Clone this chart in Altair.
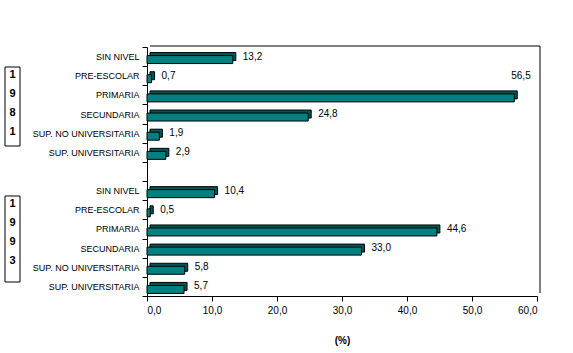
import altair as alt
import pandas as pd

years = ["1981", "1993"]
levels = ["SIN NIVEL", "PRE-ESCOLAR", "PRIMARIA", "SECUNDARIA",
          "SUP. NO UNIVERSITARIA", "SUP. UNIVERSITARIA"]
v1981 = [13.2, 0.7, 56.5, 24.8, 1.9, 2.9]
v1993 = [10.4, 0.5, 44.6, 33.0, 5.8, 5.7]
x_ticks = [0, 10, 20, 30, 40, 50, 60]

order = [f"1981|{l}" for l in levels] + ["gap|"] + [f"1993|{l}" for l in levels]
rows = []
for l, v in zip(levels, v1981):
    rows.append({"key": f"1981|{l}", "v": v})
for l, v in zip(levels, v1993):
    rows.append({"key": f"1993|{l}", "v": v})
df = pd.DataFrame(rows)

FONT = "Liberation Sans"
TEAL = "#008080"
DARK = "#005656"

yenc = alt.Y("key:N", sort=order, title=None,
             scale=alt.Scale(domain=order, paddingInner=0, paddingOuter=0),
             axis=alt.Axis(labelExpr="split(datum.label,'|')[1]", tickBand="extent",
                           tickSize=5, labelPadding=3, labelFontSize=9, labelFont=FONT,
                           labelColor="black", domainColor="black", tickColor="black",
                           labelLimit=200))
xenc = alt.X("v:Q", title="(%)",
             scale=alt.Scale(domain=[0, 60], nice=False),
             axis=alt.Axis(values=x_ticks,
                           labelExpr="replace(format(datum.value,'.1f'),'.',',')",
                           tickSize=5, labelPadding=4, labelFontSize=10, labelFont=FONT,
                           labelColor="black", domainColor="black", tickColor="black",
                           titleFont=FONT, titleFontSize=10, titleFontWeight="bold",
                           titlePadding=20, grid=False))

base = alt.Chart(df).encode(y=yenc)

back = base.mark_bar(size=8, color=DARK, stroke="black", strokeWidth=1,
                     xOffset=3, yOffset=0).encode(x=xenc)
front = base.mark_bar(size=8, color=TEAL, stroke="black", strokeWidth=1,
                      yOffset=3).encode(x=xenc)

lab = base.transform_calculate(
    t="replace(format(datum.v,'.1f'),'.',',')"
)
labels = lab.transform_filter("datum.v < 50").mark_text(
    align="left", baseline="middle", dx=10, dy=0, fontSize=10, font=FONT, color="black"
).encode(x="v:Q", text="t:N")
labels_hi = lab.transform_filter("datum.v >= 50").mark_text(
    align="left", baseline="middle", dx=-3, dy=-19, fontSize=10, font=FONT, color="black"
).encode(x="v:Q", text="t:N")

# 3D back wall lines
top_line = alt.Chart(pd.DataFrame({"a": [0]})).mark_rule(color="black", strokeWidth=1).encode(
    x=alt.value(3), x2=alt.value(393), y=alt.value(-1))
right_line = alt.Chart(pd.DataFrame({"a": [0]})).mark_rule(color="black", strokeWidth=1).encode(
    x=alt.value(393), y=alt.value(-1), y2=alt.value(246))

# year boxes
ydf = pd.DataFrame({"year": years, "ty": [22, 151], "by0": [20, 149], "by1": [99, 235]})
ydf["txt"] = ["\n".join(y) for y in years]
boxes = alt.Chart(ydf).mark_rect(fill=None, stroke="black", strokeWidth=1).encode(
    x=alt.value(-142), x2=alt.value(-127),
    y=alt.Y("by0:Q", scale=None, axis=None),
    y2="by1:Q")
ytext = alt.Chart(ydf).mark_text(fontWeight="bold", fontSize=11, font=FONT, baseline="top",
                                 align="center", lineBreak="\n", lineHeight=19,
                                 color="black").encode(
    x=alt.value(-134.5), y=alt.Y("ty:Q", scale=None, axis=None), text="txt:N")

chart = alt.layer(back, front, labels, labels_hi, top_line, right_line, boxes, ytext).properties(
    width=390, height=249,
    autosize=alt.AutoSizeParams(type="none"),
    padding={"left": 147, "top": 47, "right": 36, "bottom": 57},
    background="white"
).configure_view(stroke=None)

chart.save("out.html", embed_options={"renderer": "svg", "actions": False})
